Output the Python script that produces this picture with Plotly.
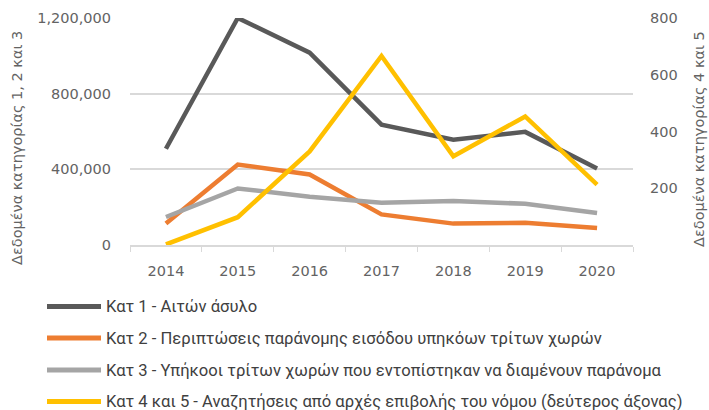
import plotly.graph_objects as go

years = ["2014", "2015", "2016", "2017", "2018", "2019", "2020"]

kat1 = [509000, 1200000, 1017000, 636000, 557000, 598000, 404000]
kat2 = [114000, 425000, 373000, 162000, 113000, 118000, 90000]
kat3 = [148000, 299000, 255000, 223000, 232000, 218000, 169000]
kat45 = [2, 98, 330, 666, 313, 453, 213]

names = [
    "Κατ 1 - Αιτών άσυλο",
    "Κατ 2 - Περιπτώσεις παράνομης εισόδου υπηκόων τρίτων χωρών",
    "Κατ 3 - Υπήκοοι τρίτων χωρών που εντοπίστηκαν να διαμένουν παράνομα",
    "Κατ 4 και 5 - Αναζητήσεις από αρχές επιβολής του νόμου (δεύτερος άξονας)",
]
colors = ["#595959", "#ED7D31", "#A5A5A5", "#FFC000"]

grey = "#636363"
axis_family = "DejaVu Sans, sans-serif"
tick_font = dict(family=axis_family, size=14.5, color=grey)
title_font = dict(family=axis_family, size=14.5, color=grey)

# plot area in pixels
L, R, T, B = 130, 633, 18, 245


def px(x):
    return (x - L) / (R - L)


def py(y):
    return (B - y) / (B - T)


fig = go.Figure()
for i, vals in enumerate([kat1, kat2, kat3]):
    fig.add_trace(go.Scatter(
        x=years, y=vals, mode="lines", name=names[i],
        line=dict(color=colors[i], width=4.5),
    ))
fig.add_trace(go.Scatter(
    x=years, y=kat45, mode="lines", name=names[3],
    line=dict(color=colors[3], width=4.5),
    yaxis="y2",
))

# legend drawn by hand so it can sit in the bottom margin without squeezing the plot
shapes = []
annotations = []
for i, (name, color) in enumerate(zip(names, colors)):
    yrow = [306.5, 338, 370, 401.5][i]
    shapes.append(dict(type="line", xref="paper", yref="paper",
                       x0=px(47), x1=px(101), y0=py(yrow), y1=py(yrow),
                       line=dict(color=color, width=5)))
    annotations.append(dict(text=name, xref="paper", yref="paper",
                            x=px(104), y=py(yrow), xanchor="left", yanchor="middle",
                            showarrow=False,
                            font=dict(family="Roboto, sans-serif", size=16.6, color="#404040")))

annotations += [
    dict(text="Δεδομένα κατηγορίας 1, 2 και 3", textangle=-90,
         xref="paper", yref="paper", x=px(17), y=py(148),
         xanchor="center", yanchor="middle", showarrow=False, font=title_font),
    dict(text="Δεδομένα κατηγορίας 4 και 5", textangle=-90,
         xref="paper", yref="paper", x=px(699), y=py(139),
         xanchor="center", yanchor="middle", showarrow=False, font=title_font),
]

fig.update_layout(
    width=709, height=410,
    margin=dict(l=L, r=709 - R, t=T, b=410 - B),
    paper_bgcolor="white",
    plot_bgcolor="white",
    showlegend=False,
    xaxis=dict(
        type="category", range=[-0.5, 6.5], showgrid=False, automargin=False,
        showline=True, linecolor="#D9D9D9", linewidth=1.5,
        ticks="outside", tickson="boundaries", ticklen=5, tickcolor="#D9D9D9",
        ticklabelstandoff=12,
        tickfont=tick_font,
    ),
    yaxis=dict(
        range=[0, 1200000], dtick=400000, tickformat=",", automargin=False,
        showgrid=True, gridcolor="#D9D9D9", gridwidth=1.5,
        zeroline=False, showline=False, ticks="", ticklabelstandoff=18,
        tickfont=tick_font,
    ),
    yaxis2=dict(
        overlaying="y", side="right", range=[0, 800], automargin=False,
        tickvals=[200, 400, 600, 800],
        showgrid=False, zeroline=False, showline=False, ticklabelstandoff=16,
        tickfont=tick_font,
    ),
    shapes=shapes,
    annotations=annotations,
)

fig.write_html("out.html", config={"displayModeBar": False},
               post_script="document.body.style.margin='0px';")
